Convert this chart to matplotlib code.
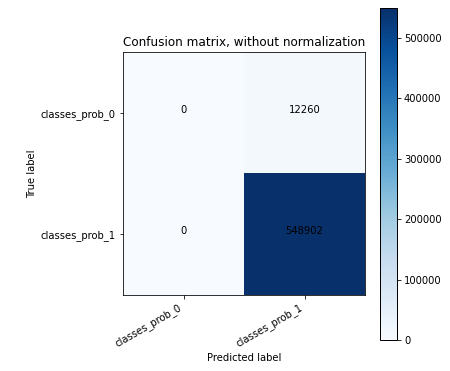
import numpy as np
import matplotlib
matplotlib.use('Agg')
import matplotlib.pyplot as plt

classes = ['classes_prob_0', 'classes_prob_1']
cm = np.array([[0, 12260],
               [0, 548902]])

W, H = 450, 371
fig = plt.figure(figsize=(W / 72, H / 72), dpi=72)
ax = fig.add_axes([123 / W, 1 - 295 / H, 242 / W, 243 / H])
cax = fig.add_axes([380 / W, 1 - 340 / H, 17 / W, 332 / H])

im = ax.imshow(cm, interpolation='nearest', cmap=plt.cm.Blues, aspect='auto')
ax.set_title('Confusion matrix, without normalization', fontsize=12)
cb = fig.colorbar(im, cax=cax)
cb.outline.set_linewidth(1)
cax.tick_params(labelsize=10)

ticks = np.arange(len(classes))
ax.set_xticks(ticks)
ax.set_xticklabels(classes, rotation=30, ha='right', fontsize=10)
ax.set_yticks(ticks)
ax.set_yticklabels(classes, fontsize=10)

# text at cell centre, baseline aligned like the sklearn example
for i in range(cm.shape[0]):
    for j in range(cm.shape[1]):
        ax.text(j, i, format(cm[i, j], 'd'), ha='center',
                color='black', fontsize=10)

ax.set_ylabel('True label', fontsize=10)
ax.set_xlabel('Predicted label', fontsize=10)

fig.savefig('out.png', dpi=72)
